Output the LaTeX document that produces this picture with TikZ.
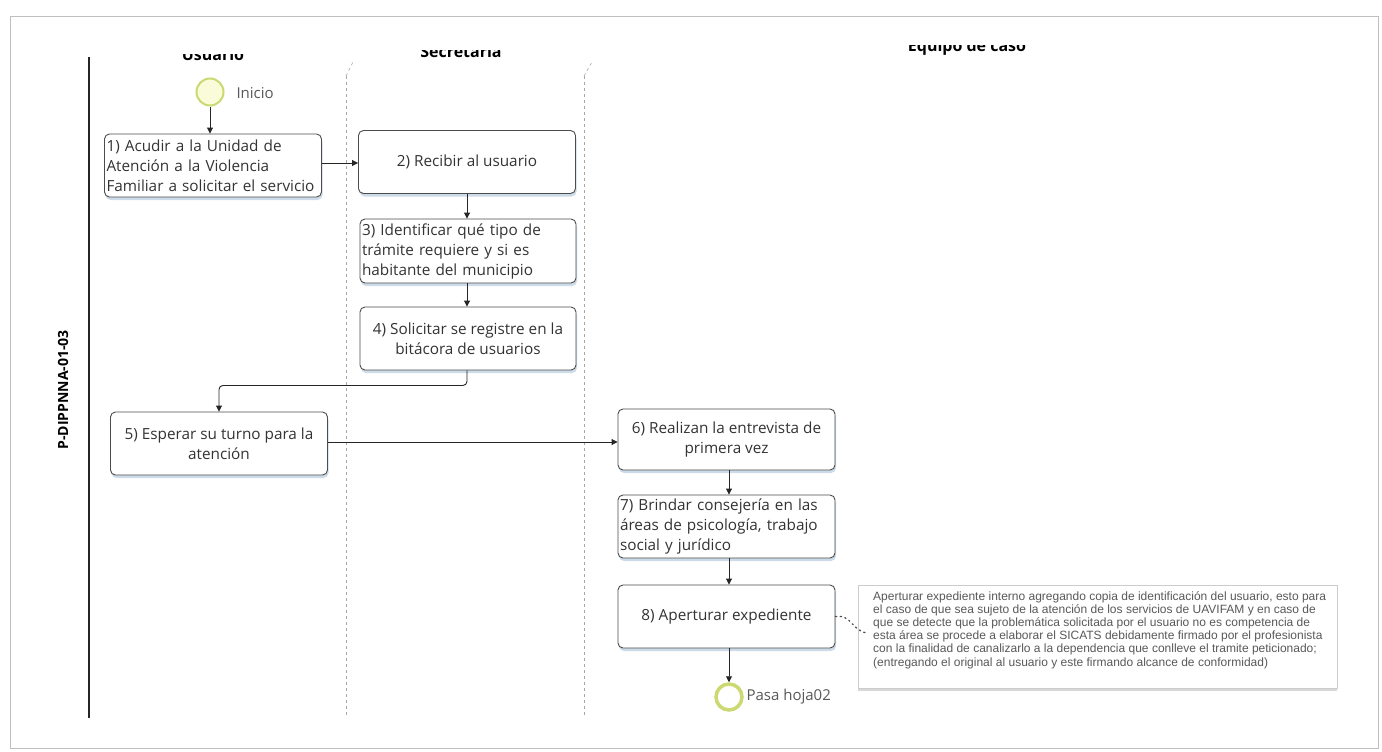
\documentclass[tikz,border=0pt]{standalone}
\usepackage{fontspec}
\setmainfont{Open Sans}
\newfontfamily\annfont{Liberation Sans}
\usetikzlibrary{arrows.meta,shadows}
\definecolor{evborder}{rgb}{0.80,0.85,0.45}
\definecolor{evfill}{rgb}{0.98,0.99,0.85}
\definecolor{shadowc}{rgb}{0.72,0.80,0.88}
\tikzset{
  task/.style={draw=black!70, rounded corners=5pt, fill=white, line width=0.9pt,
    minimum width=217pt, minimum height=63pt, inner sep=2pt,
    font=\fontsize{15.3}{20}\selectfont, text=black!80,
    drop shadow={shadow xshift=1pt, shadow yshift=-3pt, fill=shadowc, opacity=0.7}},
  ctask/.style={task, align=center},
  ltask/.style={task, align=left, text width=213pt},
  flow/.style={draw=black!85, line width=0.9pt, -{Triangle[length=6pt,width=6pt]}},
  lane/.style={draw=black!35, dashed, dash pattern=on 3pt off 3pt, line width=0.6pt},
  lanehead/.style={font=\bfseries\fontsize{16}{18}\selectfont, anchor=base},
  evlabel/.style={font=\fontsize{15}{17}\selectfont, text=black!65, anchor=west},
  ann/.style={font=\annfont\fontsize{12}{13.2}\selectfont, text=black!65, align=left, anchor=north west, inner sep=0pt}
}
\begin{document}
\begin{tikzpicture}[x=1pt,y=-1pt]
\useasboundingbox (0,0) rectangle (1382,752);
\fill[white] (0,0) rectangle (1382,752);
% outer frame
\draw[black!25, line width=1pt] (10,17) rectangle (1378,748);
% pool line and label
\draw[black!85, line width=1.3pt] (89,57) -- (89,718);
\node[rotate=90, font=\bfseries\fontsize{14}{16}\selectfont] (pool) at (63,390) {P-DIPPNNA-01-03};
% lane dividers
\draw[lane] (346,76) -- (346,715);
\draw[lane] (346,76) -- (353,62);
\draw[lane] (584,76) -- (584,715);
\draw[lane] (584,76) -- (592,62);
% lane headers (clipped at top as in the scan)
\begin{scope}
  \clip (150,55) rectangle (280,75);
  \node[lanehead] (hU) at (213,61) {Usuario};
\end{scope}
\begin{scope}
  \clip (400,51) rectangle (530,75);
  \node[lanehead] (hS) at (461,58) {Secretaria};
\end{scope}
\begin{scope}
  \clip (880,46) rectangle (1060,75);
  \node[lanehead] (hE) at (967,52) {Equipo de caso};
\end{scope}
% events
\node[circle, draw=evborder, fill=evfill, line width=2pt, minimum size=27pt, inner sep=0pt] (start) at (210,92) {};
\node[evlabel] (startl) at (233,93) {Inicio};
\node[circle, draw=evborder, fill=white, line width=3.5pt, minimum size=26pt, inner sep=0pt] (end) at (729,697) {};
\node[evlabel] (endl) at (743,697) {Pasa hoja02};
% tasks
\node[ltask] (b1) at (213,165.5) {1) Acudir a la Unidad de\\Atención a la Violencia\\Familiar a solicitar el servicio};
\node[ctask] (b2) at (467,162) {2) Recibir al usuario};
\node[ltask, text width=212pt, minimum width=216pt, minimum height=64pt] (b3) at (468,251) {3) Identificar qué tipo de\\trámite requiere y si es\\habitante del municipio};
\node[ctask, minimum width=216pt] (b4) at (468,338.5) {4) Solicitar se registre en la\\bitácora de usuarios};
\node[ctask] (b5) at (219,443.5) {5) Esperar su turno para la\\atención};
\node[ctask, minimum height=61pt] (b6) at (726.5,439.5) {6) Realizan la entrevista de\\primera vez};
\node[ltask] (b7) at (726.5,526.5) {7) Brindar consejería en las\\áreas de psicología, trabajo\\social y jurídico};
\node[ctask] (b8) at (726.5,616.5) {8) Aperturar expediente};
% annotation
\node[draw=black!20, fill=white, line width=0.6pt, minimum width=479pt, minimum height=103pt, inner sep=0pt,
  drop shadow={shadow xshift=0pt, shadow yshift=-3pt, fill=black!30, opacity=0.5}] (annbox) at (1097.5,636.5) {};
\node[ann] (anntext) at (873,591) {Aperturar expediente interno agregando copia de identificación del usuario, esto para\\
el caso de que sea sujeto de la atención de los servicios de UAVIFAM y en caso de\\
que se detecte que la problemática solicitada por el usuario no es competencia de\\
esta área se procede a elaborar el SICATS debidamente firmado por el profesionista\\
con la finalidad de canalizarlo a la dependencia que conlleve el tramite peticionado;\\
(entregando el original al usuario y este firmando alcance de conformidad)};
\coordinate (annin) at (868,633);
\draw[black!70, line width=1.3pt, dash pattern=on 1.3pt off 3.5pt, line cap=round] (b8.east) .. controls (852,614) and (852,632) .. (annin);
% flows
\draw[flow] (start) -- (start |- b1.north);
\draw[flow] (b1.east |- 0,163) -- (b2.west |- 0,163);
\draw[flow] (b2.south) -- (b3.north -| b2.south);
\draw[flow] (b3.south -| b2.south) -- (b4.north -| b2.south);
\draw[flow, rounded corners=4pt] (b4.south -| b2.south) -- ++(0,15) -| (b5.north);
\draw[flow] (b5.east |- 0,442) -- (b6.west |- 0,442);
\draw[flow] (b6.south -| 729,0) -- (b7.north -| 729,0);
\draw[flow] (b7.south -| 729,0) -- (b8.north -| 729,0);
\draw[flow] (b8.south -| 729,0) -- (end.north);
\end{tikzpicture}
\end{document}
